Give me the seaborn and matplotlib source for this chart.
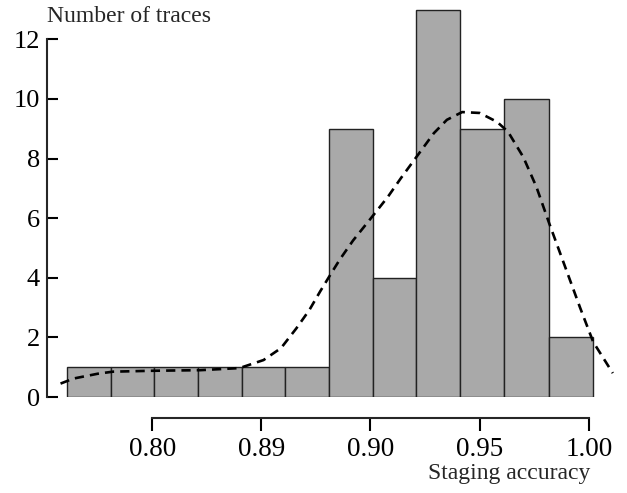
import numpy as np
import matplotlib
matplotlib.use("Agg")
import matplotlib.pyplot as plt
import seaborn as sns

# histogram bins
bin_edges = [0.761, 0.781, 0.801, 0.821, 0.841, 0.861, 0.881,
             0.901, 0.921, 0.941, 0.961, 0.982, 1.002]
counts = [1, 1, 1, 1, 1, 1, 9, 4, 13, 9, 10, 2]

# dashed density curve, scaled to counts
curve_x = [0.758, 0.764, 0.775, 0.782, 0.800, 0.822, 0.840, 0.851, 0.859,
           0.866, 0.872, 0.877, 0.881, 0.886, 0.892, 0.900, 0.908, 0.914,
           0.920, 0.929, 0.935, 0.942, 0.950, 0.958, 0.963, 0.970, 0.976,
           0.982, 0.988, 0.996, 1.002, 1.011]
curve_y = [0.45, 0.62, 0.78, 0.85, 0.88, 0.90, 0.97, 1.24, 1.64,
           2.30, 2.92, 3.55, 4.03, 4.62, 5.25, 5.98, 6.72, 7.35,
           7.95, 8.85, 9.30, 9.56, 9.53, 9.23, 8.90, 8.05, 7.05,
           5.80, 4.60, 3.00, 1.85, 0.80]

x_ticks = [0.80, 0.85, 0.90, 0.95, 1.00]
x_ticklabels = ["0.80", "0.89", "0.90", "0.95", "1.00"]
y_ticks = [0, 2, 4, 6, 8, 10, 12]

sns.set_style("ticks")
plt.rcParams['font.family'] = ['Liberation Serif', 'DejaVu Serif']

fig = plt.figure(figsize=(6.27, 4.93), dpi=100)
ax = fig.add_axes([47 / 627, 1 - 397 / 493, (620 - 47) / 627, 397 / 493])

centers = [(a + b) / 2 for a, b in zip(bin_edges[:-1], bin_edges[1:])]
sns.histplot(x=centers, weights=counts, bins=bin_edges, ax=ax,
             color="#a9a9a9", edgecolor="#222222", linewidth=1.0, alpha=1.0)
sns.lineplot(x=curve_x, y=curve_y, ax=ax, color="black", linewidth=1.9,
             linestyle=(0, (3.5, 2.3)), sort=False)

ax.set_xlim(0.7518, 1.0143)
ax.set_ylim(0, 13.32)
ax.set_xlabel("")
ax.set_ylabel("")

ax.set_xticks(x_ticks)
ax.set_xticklabels(x_ticklabels)
ax.set_yticks(y_ticks)

for s in ["top", "right"]:
    ax.spines[s].set_visible(False)
ax.spines["left"].set_bounds(0, 12)
ax.spines["left"].set_linewidth(1.5)
ax.spines["bottom"].set_position(("outward", 15))
ax.spines["bottom"].set_bounds(0.80, 1.00)
ax.spines["bottom"].set_linewidth(1.5)

ax.tick_params(axis="y", direction="in", length=8, width=1.5,
               labelsize=19, pad=5, colors="black")
ax.tick_params(axis="x", direction="out", length=9, width=1.5,
               labelsize=19.5, pad=5, colors="black")

fig.text(47 / 627, 1 - 16 / 493, "Number of traces", ha="left",
         va="center", fontsize=17)
fig.text(590 / 627, 1 - 473 / 493, "Staging accuracy", ha="right",
         va="center", fontsize=17)

fig.savefig("out.png", dpi=100)
